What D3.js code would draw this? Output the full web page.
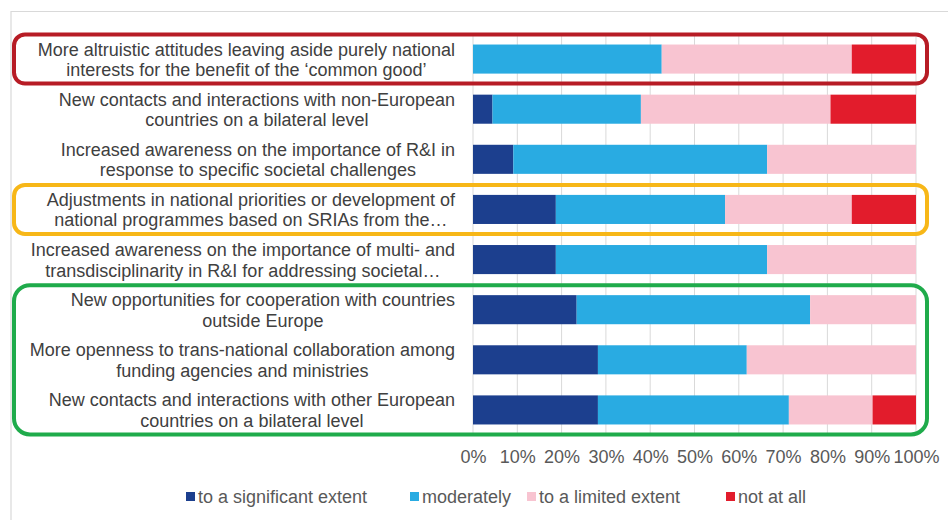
<!DOCTYPE html>
<html>
<head>
<meta charset="utf-8">
<script src="https://cdn.jsdelivr.net/npm/d3@7"></script>
<style>
  body { margin: 0; background: #fff; }
  svg { display: block; font-family: "Liberation Sans", Arial, sans-serif; }
</style>
</head>
<body>
<div class="canvas"></div>
<script>
const categories = [
  ['More altruistic attitudes leaving aside purely national', 'interests for the benefit of the \u2018common good\u2019'],
  ['New contacts and interactions with non-European', 'countries on a bilateral level'],
  ['Increased awareness on the importance of R&I in', 'response to specific societal challenges'],
  ['Adjustments in national priorities or development of', 'national programmes based on SRIAs from the\u2026'],
  ['Increased awareness on the importance of multi- and', 'transdisciplinarity in R&I for addressing societal\u2026'],
  ['New opportunities for cooperation with countries', 'outside Europe'],
  ['More openness to trans-national collaboration among', 'funding agencies and ministries'],
  ['New contacts and interactions with other European', 'countries on a bilateral level']
];

const seriesNames = ['to a significant extent', 'moderately', 'to a limited extent', 'not at all'];
const significant = [0, 4.4, 9.1, 18.7, 18.7, 23.4, 28.2, 28.2];
const moderately  = [42.6, 33.5, 57.3, 38.2, 47.7, 52.7, 33.6, 43.1];
const limited     = [42.9, 42.8, 33.6, 28.6, 33.6, 23.9, 38.2, 18.9];
const notAtAll    = [14.5, 19.3, 0, 14.5, 0, 0, 0, 9.8];
const tickValues = [0, 10, 20, 30, 40, 50, 60, 70, 80, 90, 100];

// highlight frames: [first row, last row, colour]
const frames = [
  [0, 0, '#b71c25'],
  [3, 3, '#f7b718'],
  [5, 7, '#1fab4b']
];

const colors = ['#1c3f8e', '#29abe2', '#f8c4d1', '#e21c2c'];
const dims = {width: 948, height: 520};
const fontSize = 18;

const rows = categories.map((c, i) => ({
  id: i, lines: c,
  vals: [significant[i], moderately[i], limited[i], notAtAll[i]]
}));

const stack = d3.stack()
  .keys([0, 1, 2, 3])
  .value((d, k) => d.vals[k]);
const stacked = stack(rows);

const x = d3.scaleLinear().domain([0, 100]).range([473, 916]);
const y = d3.scaleBand().domain(rows.map(d => d.id)).range([34, 435]).paddingInner(0.42).paddingOuter(0.21);

const svg = d3.select('.canvas').append('svg')
  .attr('width', dims.width)
  .attr('height', dims.height);

// chart border (only top and left visible in reference)
svg.append('path')
  .attr('d', 'M11,520 V11.5 H948')
  .attr('fill', 'none')
  .attr('stroke', '#d9d9d9')
  .attr('stroke-width', 1.2);

// gridlines
svg.append('g')
  .selectAll('line')
  .data(tickValues)
  .enter().append('line')
  .attr('x1', d => x(d)).attr('x2', d => x(d))
  .attr('y1', 34).attr('y2', 435)
  .attr('stroke', '#d9d9d9')
  .attr('stroke-width', 1);

// bars
svg.append('g')
  .selectAll('g')
  .data(stacked)
  .enter().append('g')
  .attr('fill', d => colors[d.key])
  .selectAll('rect')
  .data(d => d)
  .enter().append('rect')
  .attr('x', d => x(d[0]))
  .attr('width', d => x(d[1]) - x(d[0]))
  .attr('y', d => y(d.data.id))
  .attr('height', y.bandwidth());

// x axis labels
const xAxis = d3.axisBottom(x)
  .tickValues(tickValues)
  .tickFormat(d => d + '%')
  .tickSize(0)
  .tickPadding(0);

const axisG = svg.append('g')
  .attr('transform', 'translate(0, 450)')
  .call(xAxis);
axisG.select('.domain').remove();
axisG.selectAll('text')
  .attr('font-family', '"Liberation Sans", Arial, sans-serif')
  .attr('font-size', fontSize)
  .attr('fill', '#595959');

// category labels
const labels = svg.append('g')
  .selectAll('text')
  .data(rows)
  .enter().append('text')
  .attr('font-size', fontSize)
  .attr('fill', '#404040')
  .attr('text-anchor', 'middle');

labels.each(function(d) {
  const t = d3.select(this);
  d.lines.forEach((line, j) => {
    t.append('tspan')
      .attr('y', y(d.id) + y.bandwidth() / 2 - 3.5 + j * 20.5)
      .text(line);
  });
  let w = 0;
  t.selectAll('tspan').each(function() { w = Math.max(w, this.getComputedTextLength()); });
  t.selectAll('tspan').attr('x', 455 - w / 2);
});

// highlight frames
svg.append('g')
  .selectAll('rect')
  .data(frames)
  .enter().append('rect')
  .attr('x', 14)
  .attr('width', 913)
  .attr('y', d => y(d[0]) - 10)
  .attr('height', d => y(d[1]) + y.bandwidth() + 10 - (y(d[0]) - 10))
  .attr('rx', d => d[1] > d[0] ? 16 : 11)
  .attr('fill', 'none')
  .attr('stroke', d => d[2])
  .attr('stroke-width', 4);

// legend
const legendX = [186, 410, 527, 726];
const legend = svg.append('g')
  .selectAll('g')
  .data(seriesNames)
  .enter().append('g')
  .attr('transform', (d, i) => `translate(${legendX[i]}, 497)`);

legend.append('rect')
  .attr('x', 0).attr('y', -5)
  .attr('width', 9).attr('height', 9)
  .attr('fill', (d, i) => colors[i]);

legend.append('text')
  .attr('x', 12)
  .attr('y', 6)
  .attr('font-size', fontSize)
  .attr('fill', '#595959')
  .text(d => d);
</script>
</body>
</html>
